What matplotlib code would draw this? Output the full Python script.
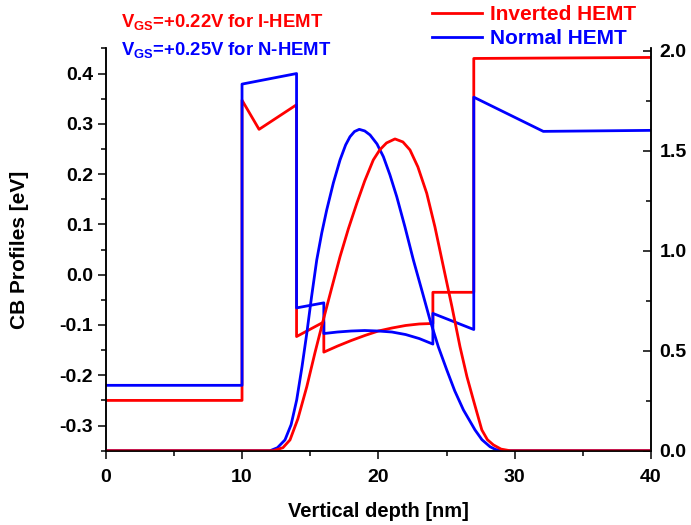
import matplotlib
matplotlib.use("Agg")
import matplotlib.pyplot as plt
from matplotlib.ticker import MultipleLocator

FONT = 'Liberation Sans'
plt.rcParams['font.family'] = [FONT, 'DejaVu Sans']
plt.rcParams['font.weight'] = 'bold'
plt.rcParams['mathtext.fontset'] = 'custom'
plt.rcParams['mathtext.bf'] = FONT + ':bold'
plt.rcParams['mathtext.rm'] = FONT + ':bold'

# conduction band profiles (left axis, eV)
inv_cb_x = [0, 10, 10, 11.25, 14, 14, 16, 16, 17, 18, 19, 20, 21, 22, 23, 24,
            24, 27, 27, 40]
inv_cb_y = [-0.25, -0.25, 0.347, 0.289, 0.338, -0.123, -0.094, -0.154, -0.142,
            -0.131, -0.121, -0.112, -0.106, -0.101, -0.098, -0.097,
            -0.035, -0.035, 0.43, 0.432]
nor_cb_x = [0, 10, 10, 14, 14, 16, 16, 17, 18, 19, 20, 21, 22, 23, 24,
            24, 27, 27, 32.1, 40]
nor_cb_y = [-0.22, -0.22, 0.379, 0.40, -0.066, -0.056, -0.117, -0.114, -0.112,
            -0.111, -0.112, -0.114, -0.119, -0.127, -0.138,
            -0.077, -0.109, 0.353, 0.285, 0.287]

# wavefunctions (right axis)
inv_wf_x = [0, 12.3, 13.0, 13.52, 14.1, 14.75, 15.35, 15.96, 16.6, 17.19, 17.8,
            18.42, 19.0, 19.63, 20.1, 20.6, 21.22, 21.8, 22.32, 22.9, 23.55, 24.15,
            24.77, 25.4, 25.99, 26.5, 26.97, 27.59, 28.0, 28.44, 29.0, 29.66, 40]
inv_wf_y = [0, 0, 0.015, 0.054, 0.16, 0.32, 0.49, 0.654, 0.82, 0.971, 1.11,
            1.238, 1.35, 1.455, 1.505, 1.54, 1.56, 1.545, 1.505, 1.42, 1.288, 1.12,
            0.921, 0.72, 0.52, 0.37, 0.254, 0.104, 0.055, 0.029, 0.008, 0, 0]
nor_wf_x = [0, 12.06, 12.6, 13.15, 13.6, 14.01, 14.4, 14.75, 15.1, 15.48, 15.85, 16.21,
            16.7, 17.19, 17.6, 17.92, 18.25, 18.6, 19.0, 19.39, 19.9, 20.37,
            20.85, 21.35, 21.95, 22.57, 23.2, 23.79, 24.4, 25.02, 25.6, 26.24,
            26.7, 27.09, 27.6, 28.19, 28.6, 29.1, 40]
nor_wf_y = [0, 0, 0.015, 0.054, 0.13, 0.254, 0.42, 0.587, 0.77, 0.954, 1.09, 1.204,
            1.34, 1.455, 1.53, 1.571, 1.597, 1.608, 1.60, 1.58, 1.535, 1.471,
            1.38, 1.271, 1.12, 0.954, 0.80, 0.654, 0.52, 0.404, 0.30, 0.204,
            0.15, 0.104, 0.055, 0.02, 0.006, 0, 0]

RED = '#ff0000'
BLUE = '#0000ff'

fig = plt.figure(figsize=(6.91, 5.25), dpi=100)
ax = fig.add_axes([105.7 / 691, 1 - 450.7 / 525, (651 - 105.7) / 691, (450.7 - 48.4) / 525])
ax2 = ax.twinx()

l1, = ax.plot(inv_cb_x, inv_cb_y, color=RED, lw=2)
l2, = ax.plot(nor_cb_x, nor_cb_y, color=BLUE, lw=2)
ax2.plot(nor_wf_x, nor_wf_y, color=BLUE, lw=2)
ax2.plot(inv_wf_x, inv_wf_y, color=RED, lw=2)

ax.set_xlim(0, 40)
ax.set_ylim(-0.35, 0.45)
ax2.set_ylim(0, 2.013)

for a in (ax, ax2):
    a.spines['top'].set_visible(False)
    for s in a.spines.values():
        s.set_linewidth(1.1)

ax.xaxis.set_major_locator(MultipleLocator(10))
ax.xaxis.set_minor_locator(MultipleLocator(5))
ax.yaxis.set_major_locator(MultipleLocator(0.1))
ax.yaxis.set_minor_locator(MultipleLocator(0.05))
ax2.yaxis.set_major_locator(MultipleLocator(0.5))
ax2.yaxis.set_minor_locator(MultipleLocator(0.25))

ax.tick_params(axis='x', which='major', direction='out', length=6, width=1.1, pad=7, labelsize=14)
ax.tick_params(axis='x', which='minor', direction='out', length=3.5, width=1.1)
ax.tick_params(axis='y', which='major', direction='out', length=6, width=1.1, pad=3, labelsize=14)
ax.tick_params(axis='y', which='minor', direction='out', length=3.5, width=1.1)
ax2.tick_params(axis='y', which='major', direction='in', length=6, width=1.1, pad=6, labelsize=14)
ax2.tick_params(axis='y', which='minor', direction='in', length=3.5, width=1.1)

ax.yaxis.set_major_formatter(lambda v, p: '%.1f' % v)
ax2.yaxis.set_major_formatter(lambda v, p: '%.1f' % v)

ax.set_xlabel('Vertical depth [nm]', fontsize=14.5, fontweight='bold', labelpad=12)
ax.set_ylabel('CB Profiles [eV]', fontsize=15, fontweight='bold', labelpad=22)

leg = fig.legend([l1, l2], ['Inverted HEMT', 'Normal HEMT'], loc='upper left',
                 bbox_to_anchor=(432 / 691, 1 - 5 / 525), frameon=False,
                 fontsize=15, handlelength=2.4, handletextpad=0.4,
                 labelspacing=0.25, borderpad=0, borderaxespad=0)
for t, c in zip(leg.get_texts(), [RED, BLUE]):
    t.set_color(c)
    t.set_fontweight('bold')

fig.text(120.7 / 691, 1 - 26.7 / 525, r'V$_{\mathbf{GS}}$=+0.22V for I-HEMT',
         color=RED, fontsize=13.3, fontweight='bold', va='baseline')
fig.text(120.7 / 691, 1 - 55 / 525, r'V$_{\mathbf{GS}}$=+0.25V for N-HEMT',
         color=BLUE, fontsize=13.3, fontweight='bold', va='baseline')

fig.savefig('out.png', dpi=100)
